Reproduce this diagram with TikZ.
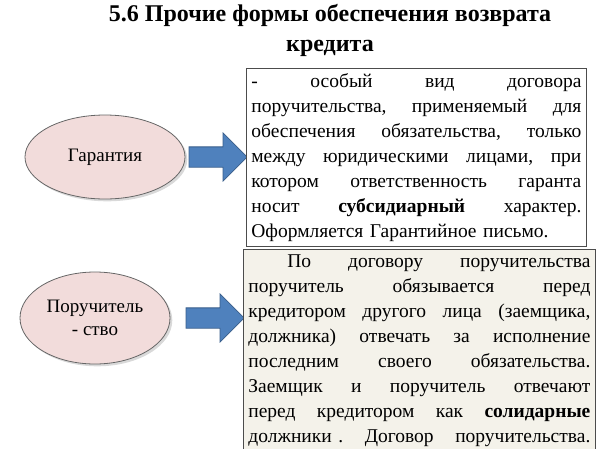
\documentclass[tikz,border=0pt]{standalone}
\usepackage{fontspec}
\setmainfont{Liberation Serif}
\usetikzlibrary{shapes.geometric,shapes.arrows,shadows}
\definecolor{ellfill}{HTML}{F2DCDB}
\definecolor{arrfill}{HTML}{4F81BD}
\definecolor{arrline}{HTML}{385D8A}
\definecolor{boxtwo}{HTML}{F4F2EA}
\newcommand{\jl}[1]{{\parfillskip=0pt\noindent#1\par}}
\begin{document}
\begin{tikzpicture}[x=1pt,y=-1pt,
 ell/.style={ellipse,draw=black!60,fill=ellfill,line width=0.8pt,drop shadow={opacity=0.3},font=\fontsize{19}{23}\selectfont,align=center},
 arr/.style={single arrow,draw=arrline,fill=arrfill,line width=0.8pt,minimum height=58,minimum width=48,single arrow head extend=6,inner sep=4},
 box/.style={draw=black!70,line width=0.8pt,inner sep=5,align=left,font=\fontsize{19.5}{25}\selectfont,anchor=north west}]
\useasboundingbox (0,0) rectangle (600,448);
\node[font=\bfseries\fontsize{24}{30}\selectfont,align=center] (t) at (330,30) {5.6 Прочие формы обеспечения возврата\\кредита};
\node[ell,minimum width=160,minimum height=84] (g) at (105,157) {Гарантия};
\node[arr] (a1) at (213,157) {};
\node[box,fill=white,text width=330] (b1) at (246,68) {%
\jl{-\hfill особый\hfill вид\hfill договора}
\jl{поручительства,\hfill применяемый\hfill для}
\jl{обеспечения\hfill обязательства,\hfill только}
\jl{между\hfill юридическими\hfill лицами,\hfill при}
\jl{котором\hfill ответственность\hfill гаранта}
\jl{носит\hfill \textbf{субсидиарный}\hfill характер.}
\noindent Оформляется Гарантийное письмо.};
\node[ell,minimum width=150,minimum height=92] (p) at (95,318) {Поручитель\\- ство};
\node[arr] (a2) at (210,318) {};
\node[box,fill=boxtwo,text width=342] (b2) at (243,249) {%
\jl{\hspace*{2em}По\hfill договору\hfill поручительства}
\jl{поручитель\hfill обязывается\hfill перед}
\jl{кредитором\hfill другого\hfill лица\hfill (заемщика,}
\jl{должника)\hfill отвечать\hfill за\hfill исполнение}
\jl{последним\hfill своего\hfill обязательства.}
\jl{Заемщик\hfill и\hfill поручитель\hfill отвечают}
\jl{перед\hfill кредитором\hfill как\hfill \textbf{солидарные}}
\jl{должники .\hfill Договор\hfill поручительства.}};
\end{tikzpicture}
\end{document}
